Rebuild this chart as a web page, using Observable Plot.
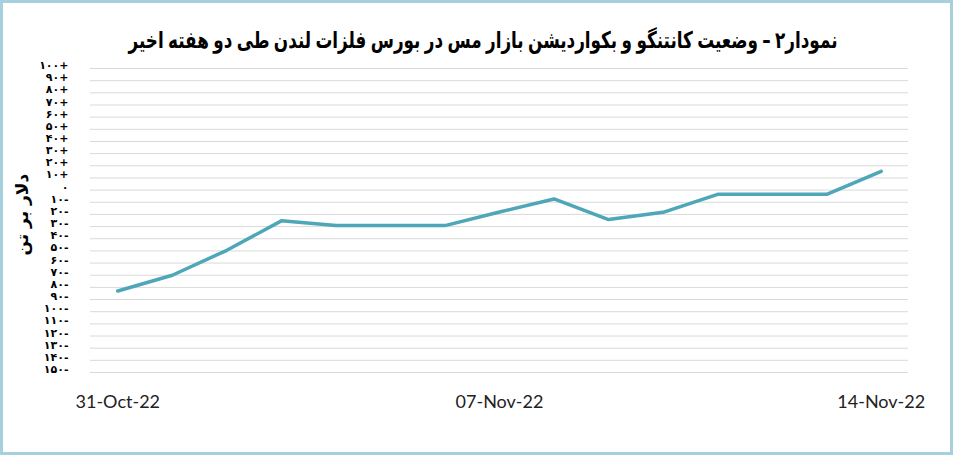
<!DOCTYPE html>
<html>
<head>
<meta charset="utf-8">
<script src="https://cdn.jsdelivr.net/npm/d3@7"></script>
<script src="https://cdn.jsdelivr.net/npm/@observablehq/plot@0.6"></script>
<style>
  html, body { margin: 0; padding: 0; background: #fff; }
  #wrap { width: 953px; height: 455px; box-sizing: border-box; border: 3px solid #a6d0dc; background: #fff; overflow: hidden; }
  #title { position: relative; height: 52px; }
  #title span { position: absolute; left: 480px; top: 24px; white-space: nowrap; direction: rtl;
           transform: translateX(-50%) scaleX(0.73); transform-origin: center;
           font-family: "DejaVu Sans", sans-serif; font-weight: bold; font-size: 23px; color: #000; line-height: 26px; word-spacing: -2px; }
  #chart svg { display: block; }
</style>
</head>
<body>
<div id="wrap">
  <div id="title"><span>نمودار۲ – وضعیت کانتنگو و بکواردیشن بازار مس در بورس فلزات لندن طی دو هفته اخیر</span></div>
  <div id="chart"></div>
</div>
<script>
// Data (USD per tonne, cash–3M spread)
const dates = ["2022-10-31","2022-11-01","2022-11-02","2022-11-03","2022-11-04","2022-11-05","2022-11-06",
               "2022-11-07","2022-11-08","2022-11-09","2022-11-10","2022-11-11","2022-11-12","2022-11-13","2022-11-14"];
const values = [-83, -70, -49.5, -25.3, -29.2, -29.2, -29.2, -18, -7.3, -24.2, -18.3, -3.5, -3.5, -3.5, 15.4];
const yTicks = [100, 90, 80, 70, 60, 50, 40, 30, 20, 10, 0, -10, -20, -30, -40, -50, -60, -70, -80, -90,
                -100, -110, -120, -130, -140, -150];
const xTickDates = ["2022-10-31", "2022-11-07", "2022-11-14"];
const yTitle = "دلار بر تن";

const data = dates.map((d, i) => ({date: new Date(d + "T00:00:00Z"), value: values[i]}));
const xTicks = xTickDates.map(d => new Date(d + "T00:00:00Z"));

const fa = "۰۱۲۳۴۵۶۷۸۹";
function toFa(n) {
  const s = String(Math.abs(n)).replace(/[0-9]/g, c => fa[+c]);
  if (n > 0) return s + "+";
  if (n < 0) return s + "-";
  return s;
}

const chart = Plot.plot({
  width: 947,
  height: 397,
  marginLeft: 87,
  marginRight: 42,
  marginTop: 13,
  marginBottom: 80,
  style: {background: "#fff", overflow: "visible"},
  x: {type: "utc", domain: [new Date("2022-10-30T12:00:00Z"), new Date("2022-11-14T12:00:00Z")]},
  y: {domain: [-150, 100]},
  marks: [
    Plot.gridY(yTicks, {stroke: "#d9d9d9", strokeOpacity: 1, strokeWidth: 1}),
    Plot.axisY(yTicks, {tickSize: 0, tickPadding: 22, tickFormat: toFa, fontSize: 11,
                        fontFamily: "DejaVu Sans", fontWeight: "bold", fill: "#000", label: null, dy: -3}),
    Plot.axisX(xTicks, {tickSize: 0, tickPadding: 23, tickFormat: d3.utcFormat("%d-%b-%y"),
                        fontSize: 18, fontFamily: "Lato", fill: "#222", label: null}),
    Plot.line(data, {x: "date", y: "value", stroke: "#4ea6b9", strokeWidth: 3.5,
                     strokeLinejoin: "round", strokeLinecap: "round"}),
    Plot.text([yTitle], {frameAnchor: "left", dx: -68, dy: 35, rotate: -90, fontSize: 17,
                         fontWeight: "bold", fontFamily: "DejaVu Sans", fill: "#000"})
  ]
});
document.getElementById("chart").appendChild(chart);
</script>
</body>
</html>
